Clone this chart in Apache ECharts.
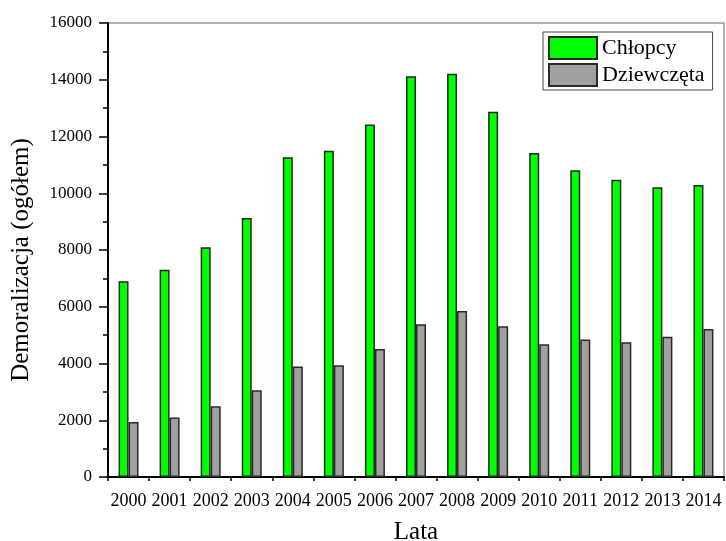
<!DOCTYPE html>
<html>
<head>
<meta charset="utf-8">
<script src="https://cdn.jsdelivr.net/npm/echarts@6/dist/echarts.min.js"></script>
<style>
    html, body { margin: 0; padding: 0; background: #fff; }
    #chart { width: 726px; height: 541px; }
</style>
</head>
<body>
<div id="chart"></div>
<script>
    var years = ['2000', '2001', '2002', '2003', '2004', '2005', '2006', '2007',
        '2008', '2009', '2010', '2011', '2012', '2013', '2014'];
    var chlopcy = [6900, 7300, 8100, 9130, 11270, 11500, 12420, 14120,
        14210, 12870, 11420, 10810, 10480, 10210, 10290];
    var dziewczeta = [1940, 2100, 2490, 3060, 3890, 3940, 4510, 5380,
        5850, 5310, 4680, 4850, 4750, 4940, 5220];
    var yTicks = [0, 2000, 4000, 6000, 8000, 10000, 12000, 14000, 16000];

    var font = 'Liberation Serif';
    var chart = echarts.init(document.getElementById('chart'));

    var option = {
        animation: false,
        textStyle: { fontFamily: font },
        grid: {
            left: 108, right: 2, top: 23, bottom: 64,
            outerBoundsMode: 'none',
            containLabel: false,
            show: true,
            borderColor: '#666',
            borderWidth: 1
        },
        legend: {
            orient: 'vertical',
            left: 543, top: 32,
            padding: [4, 8, 3, 5],
            itemGap: 3,
            itemWidth: 48,
            itemHeight: 22,
            borderColor: '#444',
            borderWidth: 1,
            backgroundColor: '#fff',
            icon: 'rect',
            textStyle: { fontFamily: font, fontSize: 22, color: '#000' },
            data: ['Chłopcy', 'Dziewczęta']
        },
        xAxis: [
            {
                type: 'category',
                data: years,
                name: 'Lata',
                nameLocation: 'middle',
                nameGap: 43,
                nameTextStyle: { fontFamily: font, fontSize: 25, color: '#000' },
                axisLine: { lineStyle: { color: '#000', width: 2 } },
                axisTick: { alignWithLabel: true, interval: 0, length: 8, lineStyle: { color: '#000', width: 1.5 } },
                axisLabel: { interval: 0, fontFamily: font, fontSize: 18, color: '#000', margin: 15 }
            },
            {
                // short ticks on category boundaries
                type: 'category',
                data: years,
                position: 'bottom',
                axisLine: { show: false },
                axisTick: { show: true, interval: 0, length: 4, lineStyle: { color: '#000', width: 1.5 } },
                axisLabel: { show: false }
            }
        ],
        yAxis: {
            type: 'value',
            min: yTicks[0],
            max: yTicks[yTicks.length - 1],
            interval: 2000,
            name: 'Demoralizacja (ogółem)',
            nameLocation: 'middle',
            nameGap: 74,
            nameTextStyle: { fontFamily: font, fontSize: 25, color: '#000', padding: [0, 20, 0, 0] },
            axisLine: { show: true, lineStyle: { color: '#000', width: 2 } },
            axisTick: { show: true, length: 9, lineStyle: { color: '#000', width: 1.5 } },
            minorTick: { show: true, splitNumber: 2, length: 5, lineStyle: { color: '#000', width: 1.5 } },
            splitLine: { show: false },
            axisLabel: {
                fontFamily: font, fontSize: 17, color: '#000', margin: 16,
                formatter: function (v) { return String(v); }
            }
        },
        series: [
            {
                name: 'Chłopcy',
                type: 'bar',
                barWidth: 10,
                barGap: 0,
                data: chlopcy,
                itemStyle: { color: '#00ff00', borderColor: '#1e2a1e', borderWidth: 1.5 }
            },
            {
                name: 'Dziewczęta',
                type: 'bar',
                barWidth: 10,
                barGap: 0,
                data: dziewczeta,
                itemStyle: { color: '#a0a0a0', borderColor: '#2a2a2a', borderWidth: 1.5 }
            }
        ]
    };

    chart.setOption(option);
</script>
</body>
</html>
